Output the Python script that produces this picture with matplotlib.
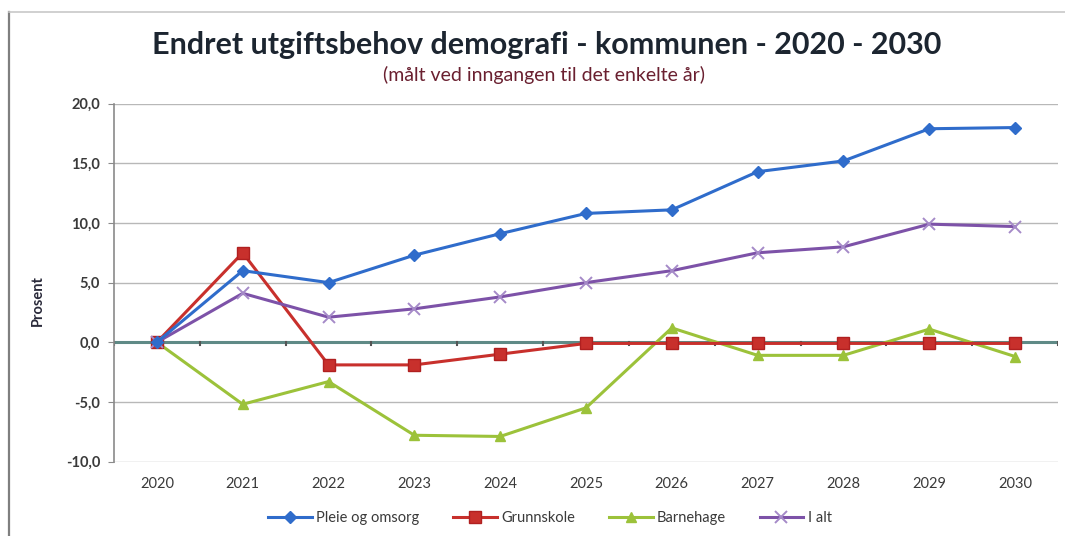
import matplotlib
matplotlib.use("Agg")
import matplotlib.pyplot as plt
from matplotlib.lines import Line2D

years = ["2020", "2021", "2022", "2023", "2024", "2025", "2026", "2027", "2028", "2029", "2030"]
pleie = [0.0, 6.0, 5.0, 7.3, 9.1, 10.8, 11.1, 14.3, 15.2, 17.9, 18.0]
grunnskole = [0.0, 7.5, -1.9, -1.9, -1.0, -0.1, -0.1, -0.1, -0.1, -0.1, -0.1]
barnehage = [0.0, -5.2, -3.3, -7.8, -7.9, -5.5, 1.2, -1.1, -1.1, 1.1, -1.2]
ialt = [0.0, 4.1, 2.1, 2.8, 3.8, 5.0, 6.0, 7.5, 8.0, 9.9, 9.7]
yticks = [-10, -5, 0, 5, 10, 15, 20]
ytick_labels = ["-10,0", "-5,0", "0,0", "5,0", "10,0", "15,0", "20,0"]

plt.rcParams['font.family'] = ['Lato', 'DejaVu Sans']

W, H = 1065, 536
fig = plt.figure(figsize=(W / 100, H / 100), dpi=100)
fig.patch.set_facecolor("white")

# outer chart border
fig.add_artist(Line2D([9 / W, 9 / W], [0, 1 - 12 / H], color="#7f7f7f", lw=1.6))
fig.add_artist(Line2D([9 / W, 1], [1 - 12 / H, 1 - 12 / H], color="#c8c8c8", lw=1.2))

ax = fig.add_axes([114 / W, 1 - 461.5 / H, (1058 - 114) / W, (461.5 - 103.7) / H])
x = list(range(len(years)))

ax.set_xlim(-0.5, len(years) - 0.5)
ax.set_ylim(-10, 20)
ax.set_yticks(yticks)
ax.set_yticklabels(ytick_labels, fontsize=10.5, fontweight="bold", color="#3a3a3a")
ax.set_xticks(x)
ax.set_xticklabels(years, fontsize=10.5, color="#3a3a3a")
ax.tick_params(axis="x", length=0, pad=11)
ax.tick_params(axis="y", length=4, color="#8a8a8a", pad=6)

ax.grid(axis="y", color="#b8b8b8", lw=1.0)
ax.set_axisbelow(True)
for s in ["top", "right", "bottom"]:
    ax.spines[s].set_visible(False)
ax.spines["left"].set_color("#8a8a8a")
ax.spines["left"].set_linewidth(1.2)

# zero axis line with small category ticks
ax.axhline(0, color="#5f8a86", lw=2.2, zorder=2)
for i in range(len(years) + 1):
    ax.plot([i - 0.5, i - 0.5], [0, -0.25], color="#555555", lw=1.5, zorder=2)

ax.plot(x, pleie, color="#2f6ccb", lw=2.2, marker="D", ms=6, mfc="#2f6ccb", mec="#2f6ccb",
        label="Pleie og omsorg", zorder=5)
ax.plot(x, grunnskole, color="#c8302c", lw=2.2, marker="s", ms=8, mfc="#c8302c", mec="#b02020",
        label="Grunnskole", zorder=4)
ax.plot(x, barnehage, color="#9cc23a", lw=2.2, marker="^", ms=7, mfc="#9cc23a", mec="#9cc23a",
        label="Barnehage", zorder=3)
ax.plot(x, ialt, color="#7d52a8", lw=2.2, marker="x", ms=8, mew=1.4, mec="#a58ac8",
        label="I alt", zorder=4)

ax.set_ylabel("Prosent", fontsize=10.5, fontweight="bold", color="#2a2a3a")
ax.yaxis.set_label_coords(-69 / 944, 0.45)

fig.text(547 / W, 1 - 45 / H, "Endret utgiftsbehov demografi - kommunen - 2020 - 2030",
         ha="center", va="center", fontsize=22, fontweight="bold", color="#1c2530")
fig.text(544 / W, 1 - 75 / H, "(målt ved inngangen til det enkelte år)",
         ha="center", va="center", fontsize=14, color="#6a2030")

leg = fig.legend(loc="center", bbox_to_anchor=(550 / W, 1 - 518 / H), ncol=4, frameon=False,
                 fontsize=10.5, handlelength=3, columnspacing=2.3, handletextpad=0.3)
for t in leg.get_texts():
    t.set_color("#3a3a3a")

fig.savefig("out.png", dpi=100, facecolor="white")
